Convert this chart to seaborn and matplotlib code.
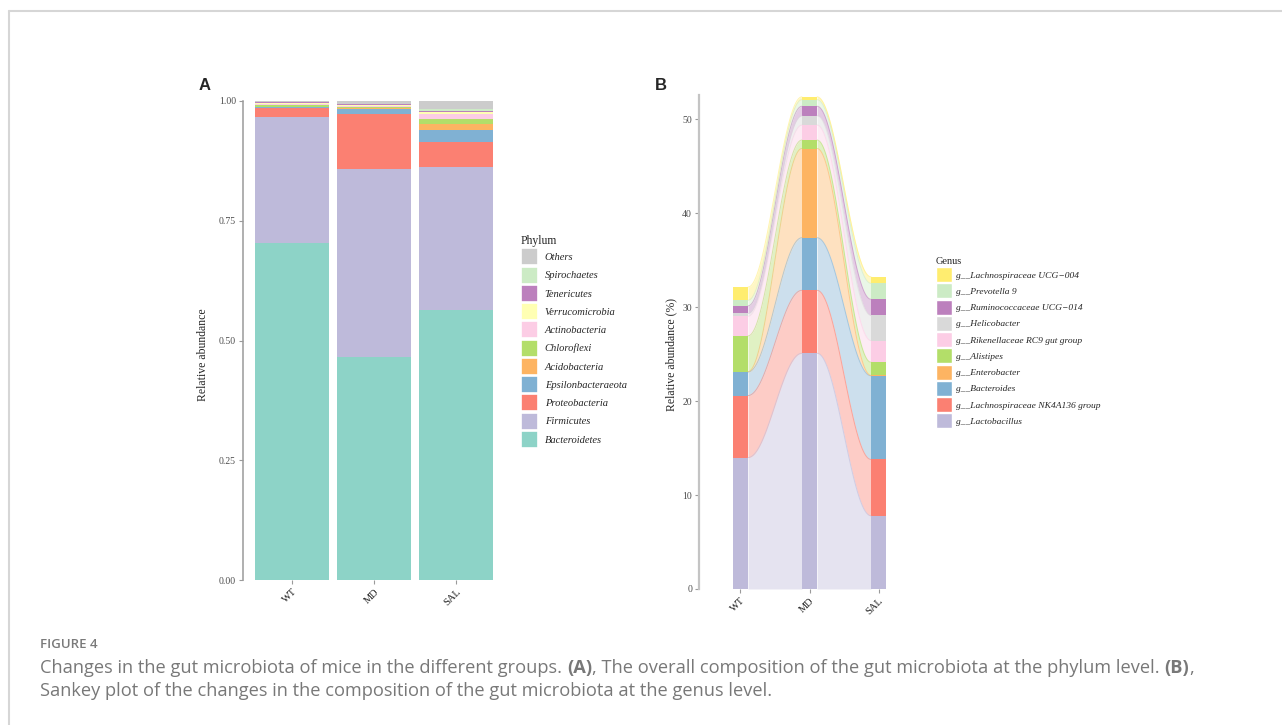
import numpy as np
import pandas as pd
import matplotlib
matplotlib.use("Agg")
import matplotlib.pyplot as plt
from matplotlib.patches import Patch
from matplotlib.lines import Line2D
import seaborn as sns

groups = ["WT", "MD", "SAL"]

# panel A: phylum level, listed bottom -> top of the stack
phyla = ["Bacteroidetes", "Firmicutes", "Proteobacteria", "Epsilonbacteraeota",
         "Acidobacteria", "Chloroflexi", "Actinobacteria", "Verrucomicrobia",
         "Tenericutes", "Spirochaetes", "Others"]
phylum_colors = ["#8DD3C7", "#BEBADA", "#FB8072", "#80B1D3", "#FDB462", "#B3DE69",
                 "#FCCDE5", "#FFFFB3", "#BC80BD", "#CCEBC5", "#CCCCCC"]
wt_phylum = [0.703, 0.264, 0.019, 0.001, 0.001, 0.003, 0.003, 0.002, 0.001, 0.001, 0.002]
md_phylum = [0.466, 0.392, 0.115, 0.010, 0.002, 0.003, 0.001, 0.002, 0.002, 0.001, 0.006]
sal_phylum = [0.564, 0.298, 0.052, 0.025, 0.013, 0.010, 0.011, 0.003, 0.003, 0.004, 0.017]

# panel B: genus level (%), bottom -> top
genera = ["g__Lactobacillus", "g__Lachnospiraceae NK4A136 group", "g__Bacteroides",
          "g__Enterobacter", "g__Alistipes", "g__Rikenellaceae RC9 gut group",
          "g__Helicobacter", "g__Ruminococcaceae UCG\u2212014", "g__Prevotella 9",
          "g__Lachnospiraceae UCG\u2212004"]
genus_colors = ["#BEBADA", "#FB8072", "#80B1D3", "#FDB462", "#B3DE69", "#FCCDE5",
                "#D9D9D9", "#BC80BD", "#CCEBC5", "#FFED6F"]
wt_genus = [14.0, 6.6, 2.5, 0.05, 3.8, 2.1, 0.3, 0.8, 0.6, 1.4]
md_genus = [25.1, 6.7, 5.6, 9.5, 0.9, 1.6, 1.0, 1.0, 0.7, 0.3]
sal_genus = [7.8, 6.0, 8.9, 0.05, 1.4, 2.3, 2.7, 1.7, 1.7, 0.7]

sns.set_style("white")
plt.rcParams["font.family"] = ["Liberation Serif", "DejaVu Serif"]

W, H = 1282, 725
fig = plt.figure(figsize=(W / 100, H / 100), dpi=100)

axis_grey = "#9a9a9a"
text_grey = "#4d4d4d"

# ---------------- panel A ----------------
axA = fig.add_axes([243 / W, 1 - 580 / H, 262 / W, 479 / H])
tabA = np.array([wt_phylum, md_phylum, sal_phylum]).T
cumA = np.cumsum(tabA, axis=0)
for k in range(len(phyla) - 1, -1, -1):
    d = pd.DataFrame({"group": groups, "value": cumA[k]})
    sns.barplot(data=d, x="group", y="value", order=groups, color=phylum_colors[k],
                width=0.9, saturation=1, errorbar=None, linewidth=0, ax=axA)
axA.set_xlim(-0.6, 2.6)
axA.set_ylim(0, 1)
axA.set_yticks([0, 0.25, 0.5, 0.75, 1.0])
axA.set_yticklabels(["0.00", "0.25", "0.50", "0.75", "1.00"])
axA.set_xlabel("")
axA.set_ylabel("Relative abundance", fontsize=8.5)
axA.yaxis.set_label_coords(-34 / 262, 0.47)

# ---------------- panel B ----------------
axB = fig.add_axes([699 / W, 1 - 589 / H, 221 / W, 494 / H])
tabB = np.array([wt_genus, md_genus, sal_genus]).T
cumB = np.cumsum(tabB, axis=0)
lowB = cumB - tabB
bw = 0.22
for k in range(len(genera)):
    c = genus_colors[k]
    for i in range(len(groups) - 1):
        xs = np.linspace(i + bw / 2, i + 1 - bw / 2, 100)
        s = (1 - np.cos(np.pi * (xs - xs[0]) / (xs[-1] - xs[0]))) / 2
        lo = lowB[k, i] + (lowB[k, i + 1] - lowB[k, i]) * s
        hi = cumB[k, i] + (cumB[k, i + 1] - cumB[k, i]) * s
        axB.fill_between(xs, lo, hi, color=c, alpha=0.4, lw=0)
        axB.plot(xs, hi, color=c, alpha=0.55, lw=0.7)
for k in range(len(genera) - 1, -1, -1):
    sns.barplot(x=groups, y=cumB[k], order=groups, color=genus_colors[k], width=bw,
                saturation=1, errorbar=None, linewidth=0, ax=axB)
axB.set_xlim(-0.6, 2.6)
axB.set_ylim(0, 52.6)
axB.set_yticks([0, 10, 20, 30, 40, 50])
axB.set_xlabel("")
axB.set_ylabel("Relative abundance (%)", fontsize=8.5)
axB.yaxis.set_label_coords(-22 / 221, 0.474)

for ax in (axA, axB):
    for sp in ("top", "right", "bottom"):
        ax.spines[sp].set_visible(False)
    ax.spines["left"].set_color(axis_grey if ax is axA else "#c4c4c4")
    ax.spines["left"].set_linewidth(1.1 if ax is axA else 1.6)
    ax.tick_params(axis="y", left=True, length=3, width=0.8, color=axis_grey,
                   labelsize=7, labelcolor=text_grey, pad=2)
    ax.tick_params(axis="x", bottom=True, length=3, width=0.8, color=axis_grey,
                   labelsize=7.5, labelcolor="#222222", pad=2)
    for lab in ax.get_xticklabels():
        lab.set_rotation(45)
        lab.set_ha("right")
        lab.set_va("top")
        lab.set_rotation_mode("anchor")

# legends
hA = [Patch(facecolor=phylum_colors[k], edgecolor="white", lw=1.2) for k in range(len(phyla) - 1, -1, -1)]
legA = fig.legend(hA, phyla[::-1], loc="upper left", bbox_to_anchor=(521 / W, 1 - 235 / H),
                  frameon=False, title="Phylum", prop={"style": "italic", "size": 7.6},
                  title_fontsize=8.5, handlelength=1.65, handleheight=2.1, labelspacing=0.12,
                  handletextpad=0.6, alignment="left", borderpad=0, borderaxespad=0)

hB = [Patch(facecolor=genus_colors[k], edgecolor="white", lw=1.0) for k in range(len(genera) - 1, -1, -1)]
legB = fig.legend(hB, genera[::-1], loc="upper left", bbox_to_anchor=(936 / W, 1 - 257 / H),
                  frameon=False, title="Genus", prop={"style": "italic", "size": 6.8},
                  title_fontsize=7.5, handlelength=1.65, handleheight=2.07, labelspacing=0.13,
                  handletextpad=0.5, alignment="left", borderpad=0, borderaxespad=0)

# panel letters
fig.text(205 / W, 1 - 86 / H, "A", family="Liberation Sans", weight="bold", fontsize=12,
         ha="center", va="center")
fig.text(661 / W, 1 - 86 / H, "B", family="Liberation Sans", weight="bold", fontsize=12,
         ha="center", va="center")

# frame lines
fig.add_artist(Line2D([9 / W, 1], [1 - 11 / H] * 2, transform=fig.transFigure, color="#d6d6d6", lw=1.5))
fig.add_artist(Line2D([9 / W] * 2, [0, 1 - 11 / H], transform=fig.transFigure, color="#d6d6d6", lw=1.5))

# caption
cap_font = "Open Sans"
cap_col = "#787878"
fig.text(40 / W, 1 - 645 / H, "FIGURE 4", family=cap_font, weight="semibold", fontsize=9.5,
         color="#7a7a7a", ha="left", va="center")

renderer = fig.canvas.get_renderer()


def text_width(s, size, weight="normal"):
    t = fig.text(0, 0, s, family=cap_font, fontsize=size, weight=weight)
    wpx = t.get_window_extent(renderer).width
    t.remove()
    return wpx


def draw_runs(x, y, runs, size, draw=True):
    sp = text_width("a a", size) - text_width("aa", size)
    x0 = x
    for txt, weight, gap in runs:
        if gap:
            x += sp
        if draw:
            fig.text(x / W, 1 - y / H, txt, family=cap_font, weight=weight, fontsize=size,
                     color=cap_col, ha="left", va="center")
        x += text_width(txt, size, weight)
    return x - x0


line1 = [
    ("Changes in the gut microbiota of mice in the different groups.", "normal", False),
    ("(A)", "bold", True),
    (", The overall composition of the gut microbiota at the phylum level.", "normal", False),
    ("(B)", "bold", True),
    (",", "normal", False),
]
line2 = [
    ("Sankey plot of the changes in the composition of the gut microbiota at the genus level.", "normal", False),
]
cap_size = 11 * 1160 / draw_runs(40, 668, line1, 11, draw=False)
draw_runs(40, 668, line1, cap_size)
draw_runs(40, 691, line2, cap_size)

fig.savefig("out.png", dpi=100)
